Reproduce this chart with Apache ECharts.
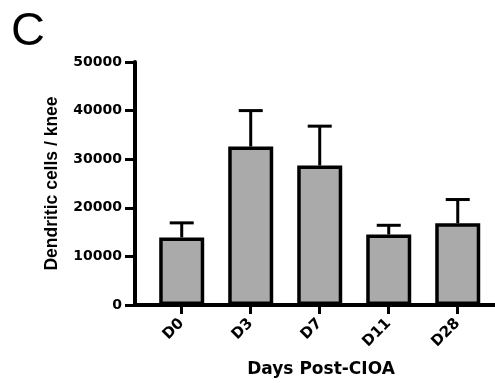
<!DOCTYPE html>
<html>
<head>
<meta charset="utf-8">
<script src="https://cdn.jsdelivr.net/npm/echarts@6/dist/echarts.min.js"></script>
<style>
  html, body { margin: 0; padding: 0; background: #fff; }
  #chart { width: 495px; height: 383px; }
</style>
</head>
<body>
<div id="chart"></div>
<script>
// days after CIOA induction
const days = ['D0', 'D3', 'D7', 'D11', 'D28'];
// mean dendritic cells per knee
const means = [13900, 32600, 28700, 14500, 16800];
// upper end of the error bars (mean + SEM)
const upper = [16900, 40000, 36800, 16400, 21700];
const yTicks = [0, 10000, 20000, 30000, 40000, 50000];

const idx = days.map((d, i) => i);

const myChart = echarts.init(document.getElementById('chart'));

myChart.setOption({
  animation: false,
  backgroundColor: '#fff',
  title: {
    text: 'C',
    left: 6,
    top: 4,
    textStyle: {
      fontFamily: 'Liberation Sans',
      fontWeight: 'normal',
      fontSize: 47,
      lineHeight: 47,
      color: '#000'
    }
  },
  grid: {
    left: 135,
    right: 0,
    top: 62,
    bottom: 76.5
  },
  xAxis: {
    type: 'value',
    min: -0.677,
    max: 4.54,
    name: 'Days Post-CIOA',
    nameLocation: 'middle',
    nameGap: 56,
    nameTextStyle: {
      fontFamily: 'DejaVu Sans',
      fontWeight: 'bold',
      fontSize: 17,
      color: '#000',
      padding: [0, 0, 0, 12]
    },
    axisLine: { show: true, onZero: false, lineStyle: { color: '#000', width: 4 } },
    axisTick: {
      show: true,
      customValues: idx,
      length: 9,
      lineStyle: { color: '#000', width: 3 }
    },
    axisLabel: {
      customValues: idx,
      formatter: v => days[Math.round(v)],
      rotate: 45,
      margin: 16,
      fontFamily: 'DejaVu Sans',
      fontWeight: 'bold',
      fontSize: 15,
      color: '#000'
    },
    splitLine: { show: false }
  },
  yAxis: {
    type: 'value',
    min: 0,
    max: 50000,
    interval: 10000,
    name: 'Dendritic cells / knee',
    nameLocation: 'middle',
    nameGap: 66,
    nameTextStyle: {
      fontFamily: 'Liberation Sans',
      fontWeight: 'bold',
      fontSize: 17.5,
      lineHeight: 20,
      color: '#000'
    },
    axisLine: { show: true, onZero: false, lineStyle: { color: '#000', width: 4 } },
    axisTick: { show: true, length: 10, lineStyle: { color: '#000', width: 3 } },
    axisLabel: {
      margin: 13,
      fontFamily: 'DejaVu Sans',
      fontWeight: 'bold',
      fontSize: 14,
      color: '#000',
      formatter: v => yTicks.indexOf(v) >= 0 ? String(v) : ''
    },
    splitLine: { show: false }
  },
  series: [
    {
      type: 'bar',
      barWidth: 45,
      data: means.map((v, i) => [i, v]),
      itemStyle: {
        color: '#aaaaaa',
        borderColor: '#000',
        borderWidth: 3.5
      },
      z: 2
    },
    {
      type: 'custom',
      data: means.map((v, i) => [i, v, upper[i]]),
      renderItem: (params, api) => {
        const top = api.coord([api.value(0), api.value(1)]);
        const hi = api.coord([api.value(0), api.value(2)]);
        const half = 12;
        return {
          type: 'group',
          children: [
            {
              type: 'line',
              shape: { x1: top[0], y1: top[1], x2: hi[0], y2: hi[1] },
              style: { stroke: '#000', lineWidth: 3 }
            },
            {
              type: 'line',
              shape: { x1: hi[0] - half, y1: hi[1], x2: hi[0] + half, y2: hi[1] },
              style: { stroke: '#000', lineWidth: 3 }
            }
          ]
        };
      },
      z: 1
    }
  ]
});

window.addEventListener('resize', () => { myChart.resize(); });
</script>
</body>
</html>
